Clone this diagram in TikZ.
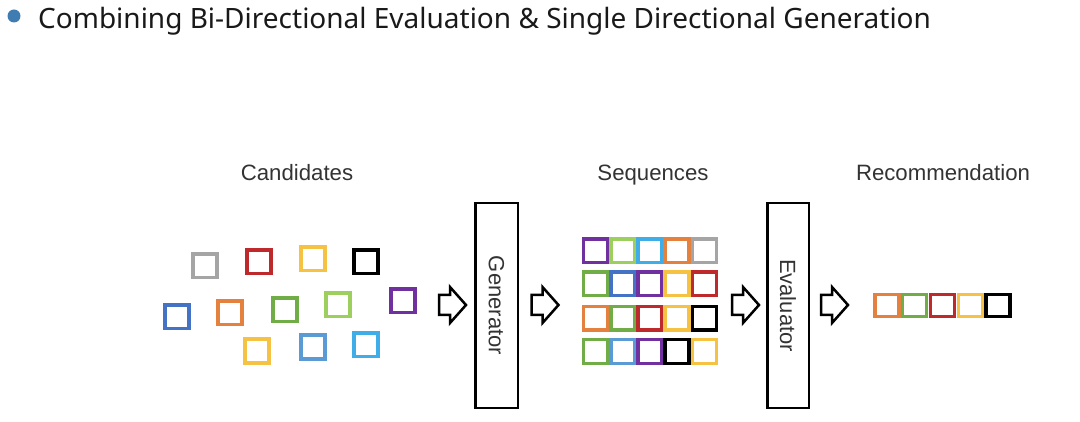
\documentclass[tikz,border=0pt]{standalone}
\usepackage{fontspec}
\setmainfont{Liberation Sans}
\newfontfamily\titlefont{Noto Sans}

\definecolor{cgray}{HTML}{A5A5A5}
\definecolor{cred}{HTML}{BE2A2C}
\definecolor{cyellow}{HTML}{F5C243}
\definecolor{corange}{HTML}{E5813E}
\definecolor{cgreen}{HTML}{70AD47}
\definecolor{clgreen}{HTML}{9CCF5E}
\definecolor{cpurple}{HTML}{7030A0}
\definecolor{cblue}{HTML}{4472C4}
\definecolor{cmblue}{HTML}{5B9BD5}
\definecolor{clblue}{HTML}{3FAEE8}
\definecolor{cbullet}{HTML}{3E7CB1}

\tikzset{
  sq/.style={draw=#1, line width=3.5pt, minimum width=24pt, minimum height=23.5pt, inner sep=0pt},
  unit/.style={draw, line width=2.5pt, minimum width=42.5pt, minimum height=204.5pt, inner sep=0pt},
  lbl/.style={font=\fontsize{22.2}{24}\selectfont, text=black!80},
  blockarr/.pic={\draw[line width=2.5pt, line join=miter]
    (-13.5,-10) -- (-2.5,-10) -- (-2.5,-18) -- (13.5,0) -- (-2.5,18) -- (-2.5,10) -- (-13.5,10) -- cycle;}
}

\begin{document}
\begin{tikzpicture}[x=1pt,y=-1pt]
\useasboundingbox (0,0) rectangle (1080,422);

% title
\fill[cbullet] (14,16) circle (6.5);
\node[anchor=base west, inner sep=0pt, font=\titlefont\fontsize{28}{32}\selectfont, text=black!90] (title) at (38,29)
  {Combining Bi-Directional Evaluation \& Single Directional Generation};

% labels
\node[lbl, anchor=base] (candlbl) at (297,181) {Candidates};
\node[lbl, anchor=base] (seqlbl) at (653,181) {Sequences};
\node[lbl, anchor=base] (reclbl) at (943,181) {Recommendation};

% candidates
\node[sq=cgray] (c1) at (205,266) {};
\node[sq=cred] (c2) at (259,262) {};
\node[sq=cyellow] (c3) at (313,259) {};
\node[sq=black] (c4) at (366,262) {};
\node[sq=cblue] (c5) at (177,317) {};
\node[sq=corange] (c6) at (230,313) {};
\node[sq=cgreen] (c7) at (285,310) {};
\node[sq=clgreen] (c8) at (338,305) {};
\node[sq=cpurple] (c9) at (403,301) {};
\node[sq=cyellow] (c10) at (257,351) {};
\node[sq=cmblue] (c11) at (313,347) {};
\node[sq=clblue] (c12) at (366,345) {};

% generator and evaluator
\node[unit] (gen) at (496.5,305.5) {};
\node[lbl, rotate=-90, font=\fontsize{22}{24}\selectfont] at (gen.center) {Generator};
\node[unit, minimum width=41.5pt] (eval) at (788,305.5) {};
\node[lbl, rotate=-90, font=\fontsize{22}{24}\selectfont] at (eval.center) {Evaluator};

% block arrows
\pic at (452.5,305) {blockarr};
\pic at (545,305) {blockarr};
\pic at (745.5,305) {blockarr};
\pic at (834.5,305) {blockarr};

% sequences
\foreach \c [count=\i] in {cpurple,clgreen,clblue,corange,cgray}
  \node[sq=\c] (sa\i) at ({568.4+27.2*\i},251) {};
\foreach \c [count=\i] in {cgreen,cblue,cpurple,cyellow,cred}
  \node[sq=\c] (sb\i) at ({568.4+27.2*\i},284) {};
\foreach \c [count=\i] in {corange,cgreen,cred,cyellow,black}
  \node[sq=\c] (sc\i) at ({568.4+27.2*\i},318.5) {};
\foreach \c [count=\i] in {cgreen,cmblue,cpurple,black,cyellow}
  \node[sq=\c] (sd\i) at ({568.4+27.2*\i},351.5) {};

% recommendation
\foreach \c [count=\i] in {corange,cgreen,cred,cyellow,black}
  \node[sq=\c, minimum height=22pt] (r\i) at ({859.1+27.8*\i},305.5) {};
\end{tikzpicture}
\end{document}
